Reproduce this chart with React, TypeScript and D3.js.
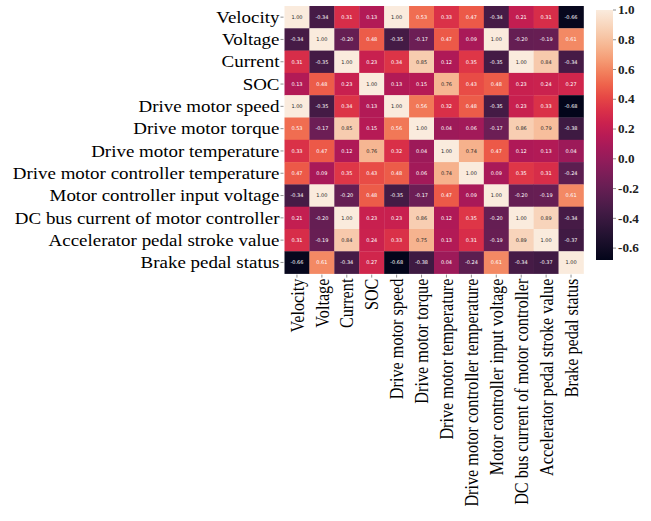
import React from "react";
import * as d3 from "d3";

const labels = [
  "Velocity",
  "Voltage",
  "Current",
  "SOC",
  "Drive motor speed",
  "Drive motor torque",
  "Drive motor temperature",
  "Drive motor controller temperature",
  "Motor controller input voltage",
  "DC bus current of motor controller",
  "Accelerator pedal stroke value",
  "Brake pedal status",
];

const rowVelocity = [1.0, -0.34, 0.31, 0.13, 1.0, 0.53, 0.33, 0.47, -0.34, 0.21, 0.31, -0.66];
const rowVoltage = [-0.34, 1.0, -0.2, 0.48, -0.35, -0.17, 0.47, 0.09, 1.0, -0.2, -0.19, 0.61];
const rowCurrent = [0.31, -0.35, 1.0, 0.23, 0.34, 0.85, 0.12, 0.35, -0.35, 1.0, 0.84, -0.34];
const rowSOC = [0.13, 0.48, 0.23, 1.0, 0.13, 0.15, 0.76, 0.43, 0.48, 0.23, 0.24, 0.27];
const rowSpeed = [1.0, -0.35, 0.34, 0.13, 1.0, 0.56, 0.32, 0.48, -0.35, 0.23, 0.33, -0.68];
const rowTorque = [0.53, -0.17, 0.85, 0.15, 0.56, 1.0, 0.04, 0.06, -0.17, 0.86, 0.79, -0.38];
const rowMotorTemp = [0.33, 0.47, 0.12, 0.76, 0.32, 0.04, 1.0, 0.74, 0.47, 0.12, 0.13, 0.04];
const rowCtrlTemp = [0.47, 0.09, 0.35, 0.43, 0.48, 0.06, 0.74, 1.0, 0.09, 0.35, 0.31, -0.24];
const rowInputVoltage = [-0.34, 1.0, -0.2, 0.48, -0.35, -0.17, 0.47, 0.09, 1.0, -0.2, -0.19, 0.61];
const rowDcBus = [0.21, -0.2, 1.0, 0.23, 0.23, 0.86, 0.12, 0.35, -0.2, 1.0, 0.89, -0.34];
const rowAccel = [0.31, -0.19, 0.84, 0.24, 0.33, 0.75, 0.13, 0.31, -0.19, 0.89, 1.0, -0.37];
const rowBrake = [-0.66, 0.61, -0.34, 0.27, -0.68, -0.38, 0.04, -0.24, 0.61, -0.34, -0.37, 1.0];

const matrix = [
  rowVelocity, rowVoltage, rowCurrent, rowSOC, rowSpeed, rowTorque,
  rowMotorTemp, rowCtrlTemp, rowInputVoltage, rowDcBus, rowAccel, rowBrake,
];

const colorbarTicks = [1.0, 0.8, 0.6, 0.4, 0.2, 0.0, -0.2, -0.4, -0.6];

const rocketStops = [
  "#03051a", "#221331", "#451c47", "#6a1f56", "#921c5b", "#b91657",
  "#dd2c45", "#f06043", "#f59e72", "#f7c9aa", "#faebdd",
];

const rocket = d3.interpolateRgbBasis(rocketStops);
const vmin = -0.68;
const vmax = 1.0;
const color = d3.scaleSequential((t: number) => rocket(t)).domain([vmin, vmax]);

function textColor(v: number) {
  const c = d3.rgb(color(v));
  const lin = (x: number) => {
    const s = x / 255;
    return s <= 0.03928 ? s / 12.92 : Math.pow((s + 0.055) / 1.055, 2.4);
  };
  const lum = 0.2126 * lin(c.r) + 0.7152 * lin(c.g) + 0.0722 * lin(c.b);
  return lum > 0.408 ? "#262626" : "#ffffff";
}

export default function App() {
  const W = 651, H = 521;
  const left = 284.5, right = 583.5, top = 6, bottom = 273.6;
  const x = d3.scaleBand<number>().domain(d3.range(labels.length)).range([left, right]);
  const y = d3.scaleBand<number>().domain(d3.range(labels.length)).range([top, bottom]);
  const cbX = 596, cbW = 17, cbTop = 10, cbBottom = 260;
  const cbScale = d3.scaleLinear().domain([vmin, vmax]).range([cbBottom, cbTop]);
  const gradStops = d3.range(0, 1.0001, 0.05);
  const fontFam = "'Liberation Serif', 'Times New Roman', serif";
  const sx = 1.17;
  const fs = 16.2;

  return (
    <svg width={W} height={H} style={{ position: "absolute", left: 0, top: 0 }}>
      <rect x={0} y={0} width={W} height={H} fill="#ffffff" />
      <defs>
        <linearGradient id="cbgrad" x1="0" y1="1" x2="0" y2="0">
          {gradStops.map((t) => (
            <stop key={t} offset={t} stopColor={rocket(t)} />
          ))}
        </linearGradient>
      </defs>
      {matrix.map((row, i) =>
        row.map((v, j) => (
          <g key={`${i}-${j}`}>
            <rect
              x={x(j)!}
              y={y(i)!}
              width={x.bandwidth() + 0.3}
              height={y.bandwidth() + 0.3}
              fill={color(v)}
            />
            <text
              x={x(j)! + x.bandwidth() / 2}
              y={y(i)! + y.bandwidth() / 2}
              dy="0.35em"
              textAnchor="middle"
              fontSize={5}
              fontFamily="'DejaVu Sans', sans-serif"
              fill={textColor(v)}
            >
              {v.toFixed(2)}
            </text>
          </g>
        ))
      )}
      {labels.map((l, i) => (
        <g key={`r${i}`}>
          <line
            x1={left - 4}
            x2={left - 1}
            y1={y(i)! + y.bandwidth() / 2}
            y2={y(i)! + y.bandwidth() / 2}
            stroke="#444"
            strokeWidth={0.6}
          />
          <text
            transform={`translate(${left - 5},${y(i)! + y.bandwidth() / 2}) scale(${sx},1)`}
            dy="0.35em"
            textAnchor="end"
            fontSize={fs}
            fontFamily={fontFam}
            fill="#000"
          >
            {l}
          </text>
        </g>
      ))}
      {labels.map((l, j) => {
        const cx = x(j)! + x.bandwidth() / 2;
        return (
          <g key={`c${j}`}>
            <line x1={cx} x2={cx} y1={bottom + 1} y2={bottom + 4} stroke="#444" strokeWidth={0.6} />
            <text
              transform={`translate(${cx},${bottom + 5}) scale(${sx},1) rotate(-90)`}
              dy="0.35em"
              textAnchor="end"
              fontSize={fs}
              fontFamily={fontFam}
              fill="#000"
            >
              {l}
            </text>
          </g>
        );
      })}
      <rect x={cbX} y={cbTop} width={cbW} height={cbBottom - cbTop} fill="url(#cbgrad)" />
      {colorbarTicks.map((t) => (
        <g key={`t${t}`}>
          <line
            x1={cbX + cbW}
            x2={cbX + cbW + 3}
            y1={cbScale(t)}
            y2={cbScale(t)}
            stroke="#444"
            strokeWidth={0.6}
          />
          <text
            transform={`translate(${cbX + cbW + 5},${cbScale(t)}) scale(1.1,1)`}
            dy="0.35em"
            fontSize={12}
            fontWeight="bold"
            fontFamily={fontFam}
            fill="#222"
          >
            {t.toFixed(1)}
          </text>
        </g>
      ))}
    </svg>
  );
}
